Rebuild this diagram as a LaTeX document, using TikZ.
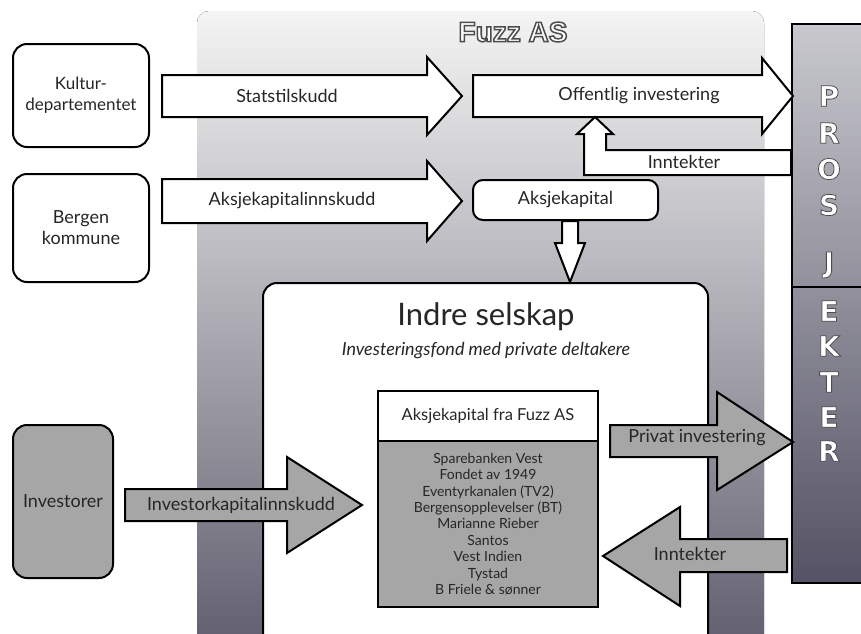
\documentclass[tikz,border=0pt]{standalone}
\usepackage{fontspec}
\setmainfont{Lato}
\newfontfamily\blockfont{Liberation Sans}
\newfontfamily\heavyfont{DejaVu Sans Bold}
\newcommand{\hollow}[2]{{\color{white}\special{pdf:literal direct 2 Tr #1 w 0.3 G}#2\special{pdf:literal direct 0 Tr}}}

\begin{document}
\begin{tikzpicture}[x=1pt, y=-1pt, line width=2pt, line join=miter,
    every node/.style={text=black!85, font=\fontsize{18}{21}\selectfont},
    box/.style={draw, rounded corners=14pt, fill=white},
    grey/.style={fill=black!35},
    blockarrow/.style={draw, fill=white}]
  \useasboundingbox (0, 0) rectangle (861, 633);
  \clip (0, 0) rectangle (861, 633);
  \fill[white] (0, 0) rectangle (861, 633);

  % Fuzz AS
  \fill[rounded corners=12pt, top color={rgb,255:red,244;green,244;blue,244},
    middle color={rgb,255:red,190;green,190;blue,196},
    bottom color={rgb,255:red,94;green,92;blue,108}]
    (197, 11) rectangle (764, 660);
  \node (fuzz) at (513, 32) {\blockfont\bfseries\fontsize{28}{28}\selectfont\hollow{1.5}{Fuzz AS}};

  % prosjekter
  \draw[top color={rgb,255:red,200;green,200;blue,206},
    bottom color={rgb,255:red,84;green,82;blue,100}]
    (792, 24) rectangle (880, 583);
  \draw (792, 287) -- (880, 287);
  \foreach \ch/\y [count=\i] in {P/96, R/133, O/169, S/205, J/265, E/311, K/346, T/382, E/417, R/451}
    \node (pl\i) at (829, \y) {\heavyfont\fontsize{28}{28}\selectfont\hollow{0.8}{\ch}};

  % left side
  \draw[box] (13, 44) rectangle (149, 147) node [pos=0.5, align=center, font=\fontsize{17}{21}\selectfont] (kultur) {Kultur-\\departementet};
  \draw[box] (13, 174) rectangle (149, 282) node [pos=0.5, align=center] (bergen) {Bergen\\kommune};
  \draw[box, grey] (13, 425) rectangle (113, 578) node [pos=0.5] (investorer) {Investorer};

  \draw[blockarrow] (162, 75) -- (427, 75) -- (427, 57) -- (462, 96) -- (427, 135) -- (427, 117) -- (162, 117) -- cycle;
  \node (stat) at (287, 96) {Statstilskudd};
  \draw[blockarrow] (162, 179) -- (427, 179) -- (427, 161) -- (462, 201) -- (427, 241) -- (427, 223) -- (162, 223) -- cycle;
  \node (aksinn) at (292, 201) {Aksjekapitalinnskudd};

  % upper right
  \draw[blockarrow] (473, 75) -- (762, 75) -- (762, 58) -- (793, 96) -- (762, 134) -- (762, 117) -- (473, 117) -- cycle;
  \node (offentlig) at (639, 96) {Offentlig investering};
  \draw[blockarrow] (791, 150) -- (606, 150) -- (606, 134) -- (613, 134) -- (595, 117) -- (577, 134) -- (584, 134) -- (584, 175) -- (791, 175) -- cycle;
  \node (inntekt1) at (684, 162) {Inntekter};
  \draw[box, rounded corners=10pt] (473, 180) rectangle (658, 220) node [pos=0.5] (aksjekap) {Aksjekapital};
  \draw[blockarrow] (562, 221) -- (578, 221) -- (578, 243) -- (585, 243) -- (570, 282) -- (555, 243) -- (562, 243) -- cycle;

  % indre selskap
  \draw[box] (263, 283) rectangle (708, 680);
  \node (indre) at (486, 317) {\fontsize{31}{33}\selectfont Indre selskap};
  \node (fond) at (486, 350) {\fontsize{18}{20}\selectfont\itshape Investeringsfond med private deltakere};
  \draw[fill=white] (378, 391) rectangle (598, 441) node [pos=0.5] (fraFuzz) {\fontsize{16.5}{19}\selectfont Aksjekapital fra Fuzz AS};
  \draw[grey] (378, 441) rectangle (598, 607) node [pos=0.5, align=center, font=\fontsize{14}{16.4}\selectfont] (liste)
    {Sparebanken Vest\\Fondet av 1949\\Eventyrkanalen (TV2)\\Bergensopplevelser (BT)\\Marianne Rieber\\Santos\\Vest Indien\\Tystad\\B Friele \& sønner};

  \draw[blockarrow, grey] (125, 489) -- (287, 489) -- (287, 457) -- (362, 505) -- (287, 553) -- (287, 521) -- (125, 521) -- cycle;
  \node (invinn) at (241, 505) {Investorkapitalinnskudd};
  \draw[blockarrow, grey] (610, 425) -- (717, 425) -- (717, 392) -- (793, 442) -- (717, 490) -- (717, 457) -- (610, 457) -- cycle;
  \node (privat) at (697, 438) {Privat investering};
  \draw[blockarrow, grey] (787, 539) -- (680, 539) -- (680, 507) -- (603, 556) -- (680, 606) -- (680, 572) -- (787, 572) -- cycle;
  \node (inntekt2) at (690, 554) {Inntekter};
\end{tikzpicture}
\end{document}
